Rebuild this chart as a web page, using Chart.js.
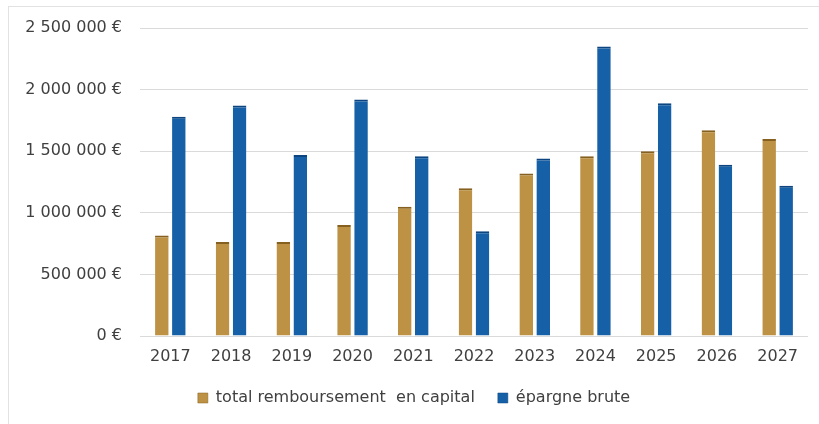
<!DOCTYPE html>
<html>
<head>
<meta charset="utf-8">
<script src="https://cdn.jsdelivr.net/npm/chart.js@4.4.1/dist/chart.umd.min.js"></script>
<style>
  body { margin: 0; background: #fff; }
  #frame { position: absolute; left: 8px; top: 6px; width: 815px; height: 420px; border-top: 1px solid #e2e2e2; border-left: 1px solid #e2e2e2; }
  #wrap { position: absolute; left: 0; top: 0; width: 819px; height: 424px; }
</style>
</head>
<body>
<div id="frame"></div>
<div id="wrap"><canvas id="myChart" width="819" height="424"></canvas></div>
<script>
const years = ["2017", "2018", "2019", "2020", "2021", "2022", "2023", "2024", "2025", "2026", "2027"];
const remboursement = [815000, 764000, 764000, 900000, 1050000, 1200000, 1320000, 1460000, 1500000, 1670000, 1600000];
const epargne = [1780000, 1870000, 1470000, 1920000, 1460000, 850000, 1440000, 2350000, 1890000, 1390000, 1220000];
const yTicks = [0, 500000, 1000000, 1500000, 2000000, 2500000];

function formatEuro(v) {
    return String(v).replace(/\B(?=(\d{3})+(?!\d))/g, " ") + " €";
}

const ctx = document.getElementById("myChart").getContext("2d");
const textFont = { family: "'DejaVu Sans'", size: 16 };

const chartInstance = new Chart(ctx, {
    type: "bar",
    data: {
        labels: years,
        datasets: [
            {
                label: "total remboursement  en capital",
                data: remboursement,
                backgroundColor: "#BD9244",
                borderColor: "#85601f",
                borderWidth: { top: 2, left: 0, right: 0, bottom: 0 },
                borderSkipped: false,
                barPercentage: 0.8,
                categoryPercentage: 0.56
            },
            {
                label: "épargne brute",
                data: epargne,
                backgroundColor: "#1560A6",
                borderColor: "#0c4580",
                borderWidth: { top: 2, left: 0, right: 0, bottom: 0 },
                borderSkipped: false,
                barPercentage: 0.8,
                categoryPercentage: 0.56
            }
        ]
    },
    options: {
        responsive: false,
        animation: false,
        layout: { padding: { left: 20, right: 11, top: 28, bottom: 8 } },
        plugins: {
            tooltip: { enabled: false },
            legend: {
                position: "bottom",
                labels: {
                    boxWidth: 10,
                    boxHeight: 10,
                    padding: 23,
                    color: "#404040",
                    font: textFont
                }
            }
        },
        scales: {
            x: {
                grid: { display: false, drawTicks: false },
                border: { display: false },
                ticks: {
                    color: "#404040",
                    padding: 11,
                    font: textFont
                },
                afterFit: (scale) => { scale.height = 31; }
            },
            y: {
                min: 0,
                max: 2500000,
                afterBuildTicks: (scale) => { scale.ticks = yTicks.map(v => ({ value: v })); },
                grid: { color: "#dadada", drawTicks: false },
                border: { display: false },
                ticks: {
                    color: "#404040",
                    padding: 18,
                    font: textFont,
                    callback: (value) => formatEuro(value)
                },
                afterFit: (scale) => { scale.width = 120; }
            }
        }
    }
});
</script>
</body>
</html>
